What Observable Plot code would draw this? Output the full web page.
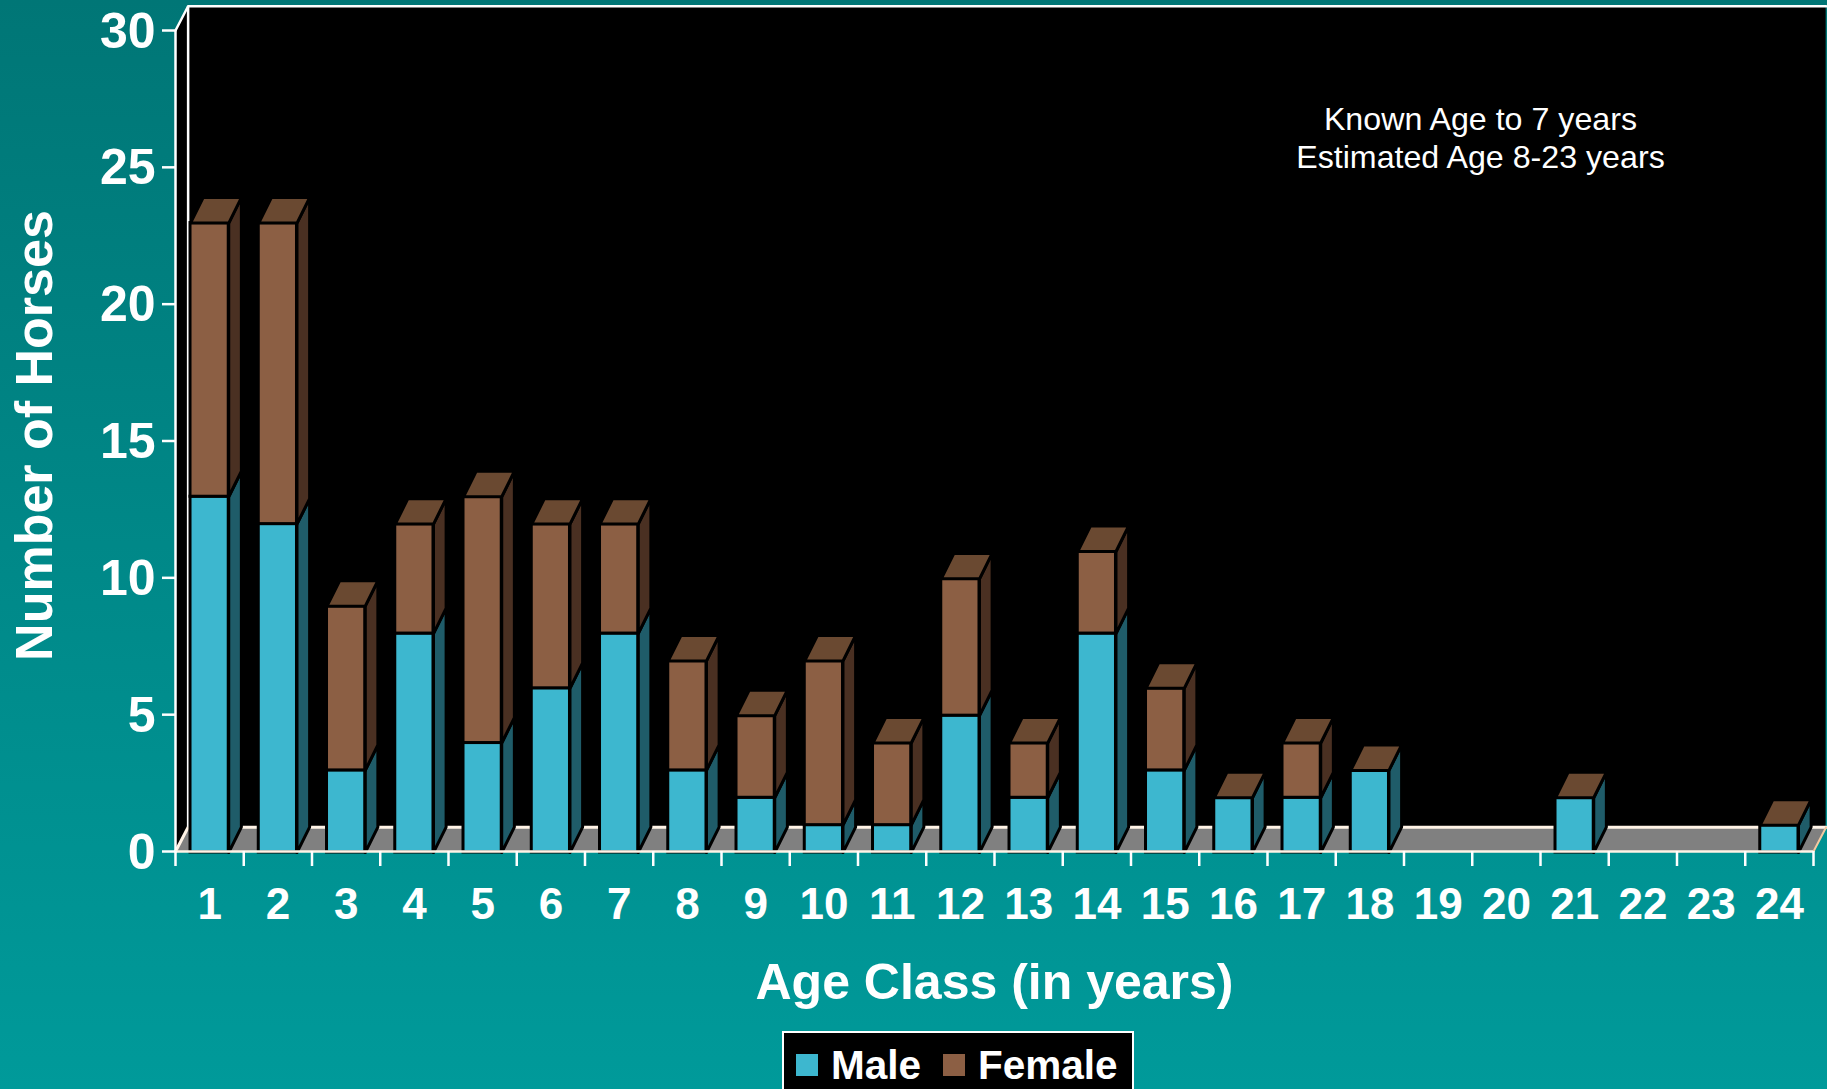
<!DOCTYPE html>
<html><head><meta charset="utf-8">
<script src="https://cdn.jsdelivr.net/npm/d3@7"></script>
<script src="https://cdn.jsdelivr.net/npm/@observablehq/plot@0.6"></script>
<style>
html,body{margin:0;padding:0;width:1827px;height:1089px;overflow:hidden;background:linear-gradient(#007676,#009a9a);font-family:"Liberation Sans",Arial,sans-serif;position:relative}
svg{display:block;background:transparent!important}
#legend{position:absolute;left:782px;top:1031px;width:348px;height:80px;box-sizing:content-box;background:#000;border:2px solid #fff;color:#fff;font-weight:700;font-size:40.5px}
#legend i{position:absolute;top:21px;width:22px;height:22px}
#legend span{position:absolute;top:9px;line-height:46px}
</style></head><body>
<div id="chart"></div>
<div id="legend"></div>
<script>
const ageClasses = d3.range(1, 25);
const maleCounts   = [13,12,3,8,4,6,8,3,2,1,1,5,2,8,3,2,2,3,0,0,2,0,0,1];
const femaleCounts = [10,11,6,4,9,6,4,4,3,6,3,5,2,3,3,0,2,0,0,0,0,0,0,0];
const yTicks = [0,5,10,15,20,25,30];
const legendNames = ["Male","Female"];
const xTitle = "Age Class (in years)";
const yTitle = "Number of Horses";
const note = "Known Age to 7 years\nEstimated Age 8-23 years";

const colors = {
  male: "#3db7cf", maleSide: "#1f5c69",
  female: "#8c5f44", femaleSide: "#4a3022", top: "#6a4931",
  floor: "#808080", wall: "#000", line: "#fff"
};
const depthX = 0.185, depthY = 0.885;   // oblique depth of the room, in data units
const barDepthY = 0.93;                 // oblique depth of a bar
const inset = 0.22;
const edge = 3;

const bars = ageClasses.map((a, i) => ({
  a, x1: a - 1 + inset, x2: a - inset,
  m: maleCounts[i], f: femaleCounts[i], t: maleCounts[i] + femaleCounts[i]
})).filter(b => b.t > 0);

const poly = (id, pts) => [...pts, pts[0]].map(([x, y]) => ({id, x, y}));
const sideFace = (b, lo, hi, tag) => poly(tag + b.a, [
  [b.x2, lo], [b.x2 + depthX, lo + barDepthY], [b.x2 + depthX, hi + barDepthY], [b.x2, hi]
]);
const maleSides = bars.filter(b => b.m > 0).flatMap(b => sideFace(b, 0, b.m, "m"));
const femaleSides = bars.filter(b => b.f > 0).flatMap(b => sideFace(b, b.m, b.t, "f"));
const tops = bars.flatMap(b => poly("t" + b.a, [
  [b.x1, b.t], [b.x2, b.t], [b.x2 + depthX, b.t + barDepthY], [b.x1 + depthX, b.t + barDepthY]
]));
const face = (data, fill) => Plot.line(data, {x:"x", y:"y", z:"id", fill, stroke:"#000", strokeWidth:edge, strokeLinejoin:"miter", dy:1});

const xMax = ageClasses.length, yMax = 30;
const floor = poly("floor", [[0,0],[xMax,0],[xMax+depthX,depthY],[depthX,depthY]]);
const leftWall = poly("left", [[0,0],[depthX,depthY],[depthX,yMax+depthY],[0,yMax]]);
const wallEdge = [[0,yMax],[depthX,yMax+depthY],[xMax+depthX,yMax+depthY]].map(([x,y])=>({x,y}));
const floorEdge = [[0,0],[depthX,depthY],[xMax+depthX,depthY]].map(([x,y])=>({x,y}));

const plot = Plot.plot({
  width: 1827, height: 1089,
  marginLeft: 175, marginRight: 14, marginTop: 30, marginBottom: 238,
  x: {domain: [0, xMax]},
  y: {domain: [0, yMax]},
  style: {fontFamily: '"Liberation Sans",Arial,sans-serif', background: "transparent", overflow: "hidden"},
  marks: [
    Plot.rect([0], {x1: depthX, x2: xMax + depthX, y1: depthY, y2: yMax + depthY, fill: colors.wall}),
    Plot.line(leftWall, {x:"x", y:"y", fill: colors.wall}),
    Plot.line(floor, {x:"x", y:"y", fill: colors.floor}),
    Plot.line(wallEdge, {x:"x", y:"y", stroke: colors.line, strokeWidth: 2.5}),
    Plot.line(floorEdge, {x:"x", y:"y", stroke: "#fff3e6", strokeWidth: 3}),
    Plot.ruleX([depthX], {y1: depthY, y2: yMax + depthY, stroke: colors.line, strokeWidth: 2.5}),
    Plot.line([{x:xMax,y:0},{x:xMax+depthX,y:depthY}], {x:"x", y:"y", stroke:"#f4c9a0", strokeWidth:2}),

    face(maleSides, colors.maleSide),
    face(femaleSides, colors.femaleSide),
    Plot.rect(bars.filter(b => b.m > 0), {x1:"x1", x2:"x2", y1:0, y2:"m", fill: colors.male, stroke:"#000", strokeWidth:edge, dy:1}),
    Plot.rect(bars.filter(b => b.f > 0), {x1:"x1", x2:"x2", y1:"m", y2:"t", fill: colors.female, stroke:"#000", strokeWidth:edge, dy:1}),
    face(tops, colors.top),

    Plot.ruleX([0], {y1: 0, y2: yMax, stroke: colors.line, strokeWidth: 2.5}),
    Plot.ruleY([0], {x1: 0, x2: xMax, stroke: "#fff3e6", strokeWidth: 2.5}),

    Plot.axisY({ticks: yTicks, tickSize: 13, tickFormat: () => "", label: null, color: "#fff", strokeWidth: 2.5}),
    Plot.axisY({ticks: yTicks, tickSize: 0, tickPadding: 20, label: null, color: "#fff", fontSize: 50, fontWeight: 700, dy: 1}),
    Plot.axisX({ticks: d3.range(0, xMax + 1), tickSize: 15, tickFormat: () => "", label: null, color: "#fff", strokeWidth: 2.5}),
    Plot.text(ageClasses, {x: d => d - 0.5, text: d => String(d), frameAnchor: "bottom", dy: 67, fill: "#fff", fontSize: 44, fontWeight: 700}),

    Plot.text([xTitle], {x: xMax / 2, frameAnchor: "bottom", dy: 147, fill: "#fff", fontSize: 50, fontWeight: 700}),
    Plot.text([yTitle], {x: -2.05, y: 15.2, rotate: -90, fill: "#fff", fontSize: 52, fontWeight: 700}),
    Plot.text([note], {x: 19.12, y: 26.13, fill: "#fff", fontSize: 32.2, lineHeight: 1.18})
  ]
});
document.getElementById("chart").append(plot);

const legend = document.getElementById("legend");
legendNames.forEach((name, i) => {
  const sw = document.createElement("i");
  sw.style.left = (i ? 159 : 12) + "px";
  sw.style.background = i ? colors.female : colors.male;
  const tx = document.createElement("span");
  tx.style.left = (i ? 194 : 47) + "px";
  tx.textContent = name;
  legend.append(sw, tx);
});
</script>
</body></html>
